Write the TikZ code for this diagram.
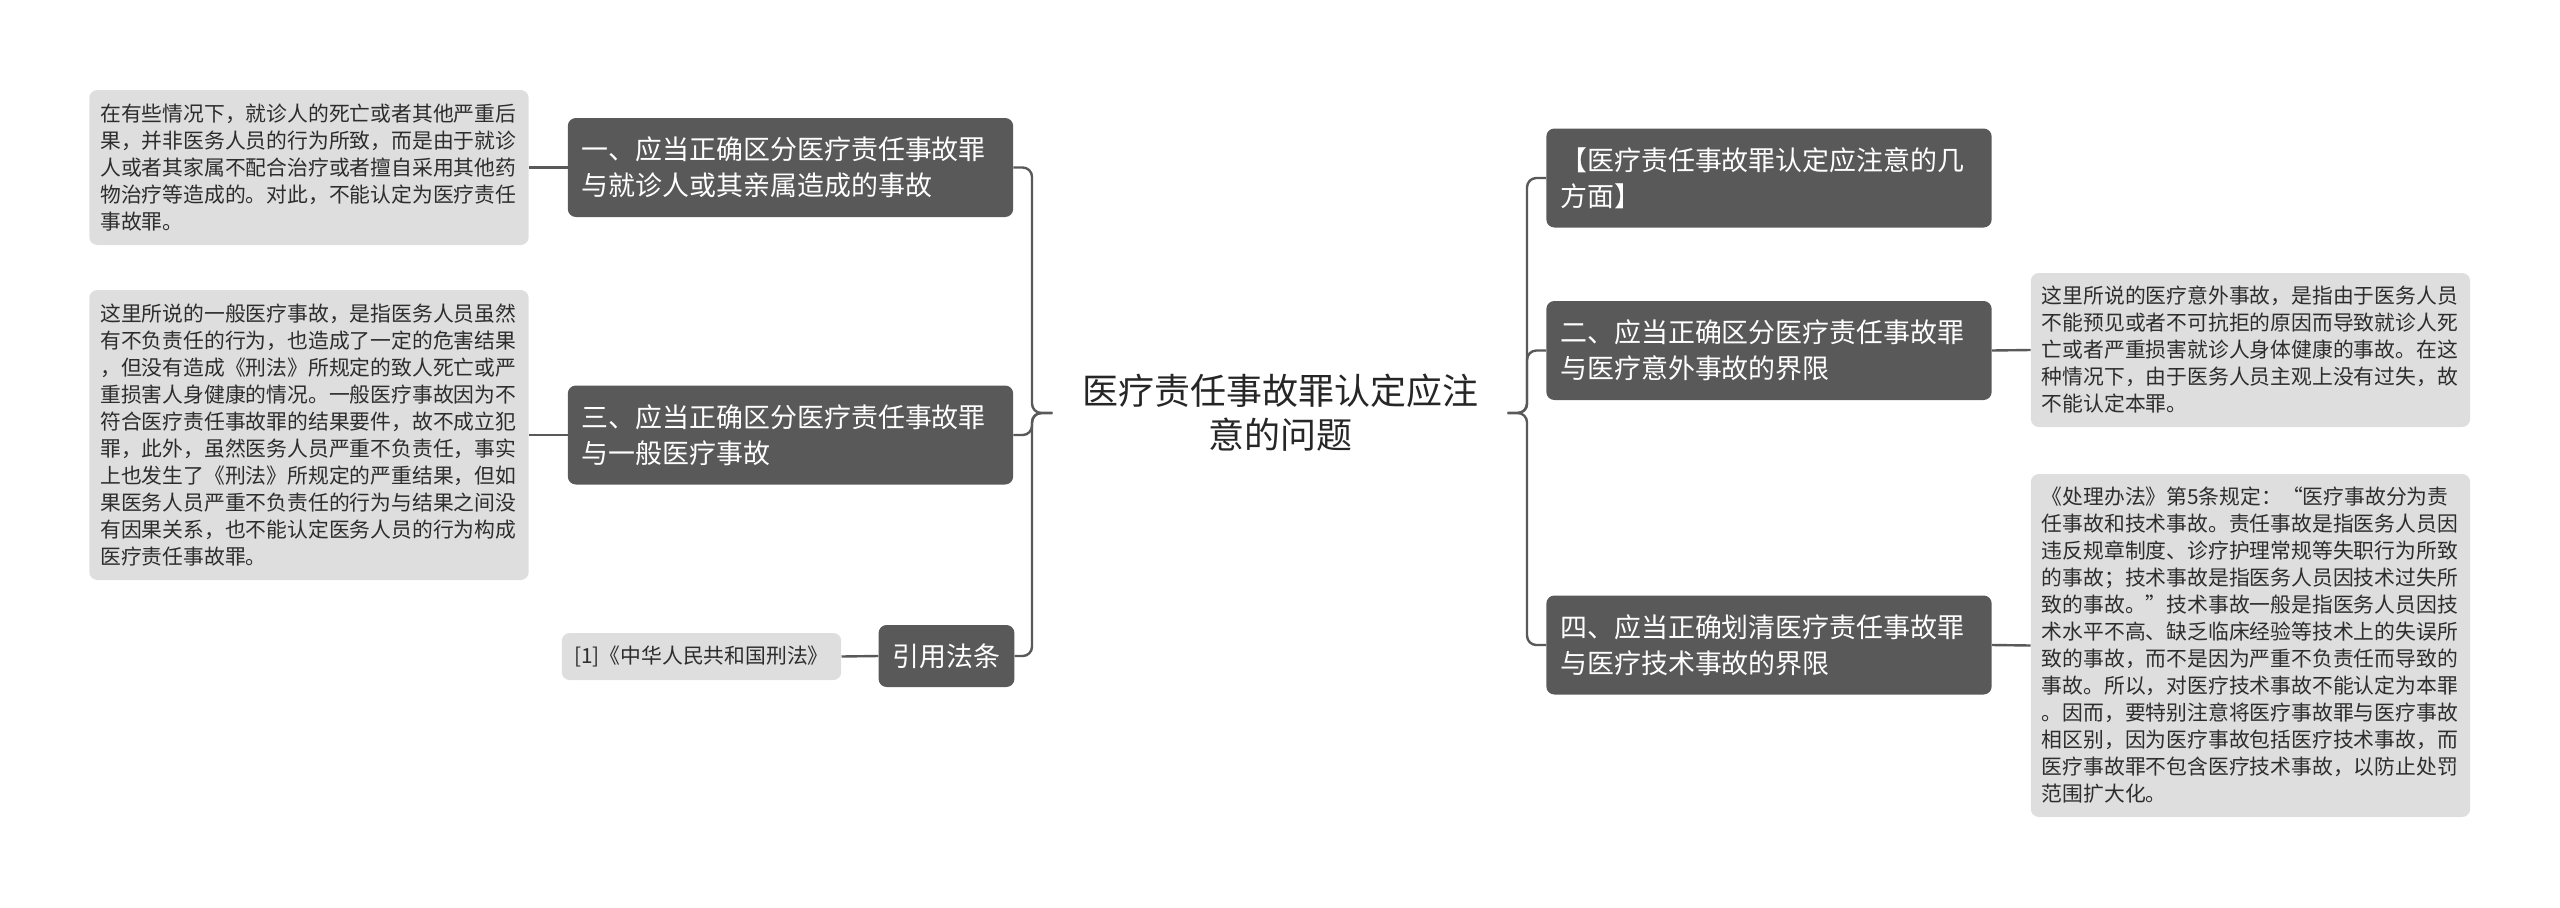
\documentclass[tikz,border=0pt]{standalone}
\usepackage{fontspec}
\newfontfamily\cjk{Noto Sans CJK SC}
\definecolor{topicfill}{RGB}{89,89,89}
\definecolor{notefill}{RGB}{222,222,222}
\definecolor{notetext}{RGB}{45,45,45}
\definecolor{linkgray}{RGB}{89,89,89}
\tikzset{
root/.style={font=\cjk\fontsize{27}{33}\selectfont, text=black!85, align=center, text width=297pt, inner xsep=22pt, inner ysep=6pt},
topic/.style={fill=topicfill, rounded corners=6pt, text=white, font=\cjk\fontsize{20.2}{27}\selectfont, align=left, inner xsep=10.5pt, inner ysep=4pt, minimum height=74.25pt},
topicwide/.style={topic, text width=313pt},
note/.style={fill=notefill, rounded corners=6pt, text=notetext, font=\cjk\fontsize{15.6}{20.25}\selectfont, align=left, inner xsep=8.25pt, inner ysep=4pt},
notewide/.style={note, text width=313pt},
link/.style={draw=linkgray, line width=1.8pt, rounded corners=7pt}}

\begin{document}
\begin{tikzpicture}[x=0.75pt,y=0.75pt,yscale=-1,xscale=1]
\useasboundingbox (0,0) rectangle (2560,907);

% Text Node
\node (root) at (1280,413) [root] {医疗责任事故罪认定应注\\意的问题};

% left topics
\node (t1) at (790.5,167.5) [topicwide] {一、应当正确区分医疗责任事故罪\\与就诊人或其亲属造成的事故};
\node (t3) at (790.5,435) [topicwide] {三、应当正确区分医疗责任事故罪\\与一般医疗事故};
\node (cite) at (946.5,656) [topic, minimum height=46.5pt] {引用法条};

% right topics
\node (t0) at (1769,178) [topicwide] {【医疗责任事故罪认定应注意的几\\方面】};
\node (t2) at (1769,350.5) [topicwide] {二、应当正确区分医疗责任事故罪\\与医疗意外事故的界限};
\node (t4) at (1769,645) [topicwide] {四、应当正确划清医疗责任事故罪\\与医疗技术事故的界限};

% notes
\node (n1) at (309,167.5) [notewide, minimum height=116.25pt] {在有些情况下，就诊人的死亡或者其他严重后\\果，并非医务人员的行为所致，而是由于就诊\\人或者其家属不配合治疗或者擅自采用其他药\\物治疗等造成的。对此，不能认定为医疗责任\\事故罪。};
\node (n3) at (309,435) [notewide, minimum height=217.5pt] {这里所说的一般医疗事故，是指医务人员虽然\\有不负责任的行为，也造成了一定的危害结果\\，但没有造成《刑法》所规定的致人死亡或严\\重损害人身健康的情况。一般医疗事故因为不\\符合医疗责任事故罪的结果要件，故不成立犯\\罪，此外，虽然医务人员严重不负责任，事实\\上也发生了《刑法》所规定的严重结果，但如\\果医务人员严重不负责任的行为与结果之间没\\有因果关系，也不能认定医务人员的行为构成\\医疗责任事故罪。};
\node (law) at (701.5,656.5) [note, inner xsep=9.4pt, minimum height=35.25pt] {[1]《中华人民共和国刑法》};
\node (n2) at (2250.5,350) [notewide, minimum height=115.5pt] {这里所说的医疗意外事故，是指由于医务人员\\不能预见或者不可抗拒的原因而导致就诊人死\\亡或者严重损害就诊人身体健康的事故。在这\\种情况下，由于医务人员主观上没有过失，故\\不能认定本罪。};
\node (n4) at (2250.5,645.5) [notewide, minimum height=257.25pt] {《处理办法》第5条规定：“医疗事故分为责\\任事故和技术事故。责任事故是指医务人员因\\违反规章制度、诊疗护理常规等失职行为所致\\的事故；技术事故是指医务人员因技术过失所\\致的事故。”技术事故一般是指医务人员因技\\术水平不高、缺乏临床经验等技术上的失误所\\致的事故，而不是因为严重不负责任而导致的\\事故。所以，对医疗技术事故不能认定为本罪\\。因而，要特别注意将医疗事故罪与医疗事故\\相区别，因为医疗事故包括医疗技术事故，而\\医疗事故罪不包含医疗技术事故，以防止处罚\\范围扩大化。};

% branch lines
\coordinate (trunkL) at (1032,413);
\coordinate (trunkR) at (1527,413);
\draw [link] (root.west) -- (trunkL) |- (t1.east);
\draw [link] (root.west) -- (trunkL) |- (t3.east);
\draw [link] (root.west) -- (trunkL) |- (cite.east);
\draw [link] (root.east) -- (trunkR) |- (t0.west);
\draw [link] (root.east) -- (trunkR) |- (t2.west);
\draw [link] (root.east) -- (trunkR) |- (t4.west);

%Straight Lines
\draw [link] (t1.west) -- (n1.east);
\draw [link] (t3.west) -- (n3.east);
\draw [link] (cite.west) -- (law.east);
\draw [link] (t2.east) -- (n2.west);
\draw [link] (t4.east) -- (n4.west);
\end{tikzpicture}
\end{document}
